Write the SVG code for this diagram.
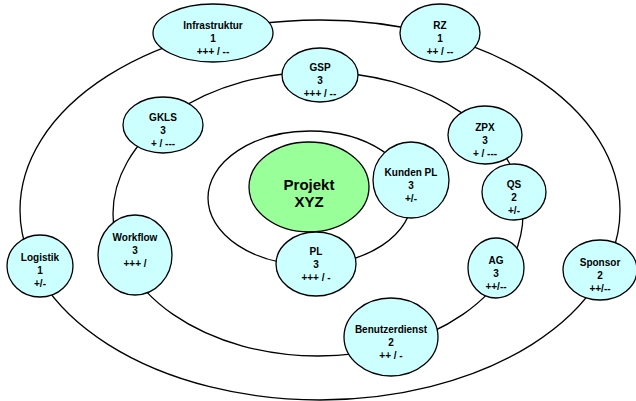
<svg xmlns="http://www.w3.org/2000/svg" width="636" height="401" viewBox="0 0 636 401">
<style>
.ring{fill:none;stroke:#000;stroke-width:1.3}
.n{fill:#ccffff;stroke:#000;stroke-width:1.3}
.c{fill:#99ff99;stroke:#000;stroke-width:1.3}
text{font-family:"Liberation Sans",Arial,sans-serif;font-weight:bold;font-size:10px;fill:#000;text-anchor:middle}
.big{font-size:15px}
</style>
<rect width="636" height="401" fill="#fff"/>
<g id="connectors">
<ellipse class="ring" cx="320" cy="210" rx="300" ry="190"/>
<ellipse class="ring" cx="318" cy="214" rx="205" ry="142"/>
<ellipse class="ring" cx="310" cy="198" rx="102" ry="67"/>
</g>
<g id="projekt"><ellipse class="c" cx="309" cy="187" rx="60" ry="45"/><text class="big" x="309" y="190">Projekt</text><text class="big" x="309" y="207">XYZ</text></g>
<g id="infrastruktur"><ellipse class="n" cx="213" cy="33" rx="60" ry="29"/><text x="213" y="29">Infrastruktur</text><text x="213" y="42">1</text><text x="213" y="55">+++ / --</text></g>
<g id="rz"><ellipse class="n" cx="440" cy="33" rx="40" ry="29"/><text x="440" y="29">RZ</text><text x="440" y="42">1</text><text x="440" y="55">++ / --</text></g>
<g id="gsp"><ellipse class="n" cx="320" cy="75" rx="38" ry="27"/><text x="320" y="71">GSP</text><text x="320" y="84">3</text><text x="320" y="97">+++ / --</text></g>
<g id="gkls"><ellipse class="n" cx="163" cy="125" rx="40" ry="28"/><text x="163" y="121">GKLS</text><text x="163" y="134">3</text><text x="163" y="147">+ / ---</text></g>
<g id="zpx"><ellipse class="n" cx="485" cy="135" rx="37" ry="29"/><text x="485" y="131">ZPX</text><text x="485" y="144">3</text><text x="485" y="157">+ / ---</text></g>
<g id="kundenpl"><circle class="n" cx="411" cy="180" r="38"/><text x="411" y="176">Kunden PL</text><text x="411" y="189">3</text><text x="411" y="202">+/-</text></g>
<g id="qs"><ellipse class="n" cx="514" cy="192" rx="32" ry="28"/><text x="514" y="188">QS</text><text x="514" y="201">2</text><text x="514" y="214">+/-</text></g>
<g id="logistik"><ellipse class="n" cx="40" cy="266" rx="33" ry="31"/><text x="40" y="261">Logistik</text><text x="40" y="274">1</text><text x="40" y="287">+/-</text></g>
<g id="workflow"><ellipse class="n" cx="135" cy="255" rx="37" ry="40"/><text x="135" y="241">Workflow</text><text x="135" y="254">3</text><text x="135" y="267">+++ /</text></g>
<g id="pl"><ellipse class="n" cx="316" cy="264" rx="40" ry="32"/><text x="316" y="255">PL</text><text x="316" y="268">3</text><text x="316" y="281">+++ / -</text></g>
<g id="ag"><ellipse class="n" cx="496" cy="268" rx="28" ry="30"/><text x="496" y="264">AG</text><text x="496" y="277">3</text><text x="496" y="290">++/--</text></g>
<g id="sponsor"><ellipse class="n" cx="600" cy="270" rx="37" ry="30"/><text x="600" y="266">Sponsor</text><text x="600" y="279">2</text><text x="600" y="292">++/--</text></g>
<g id="benutzerdienst"><ellipse class="n" cx="391" cy="337" rx="47" ry="39"/><text x="391" y="333">Benutzerdienst</text><text x="391" y="346">2</text><text x="391" y="359">++ / -</text></g>
</svg>
